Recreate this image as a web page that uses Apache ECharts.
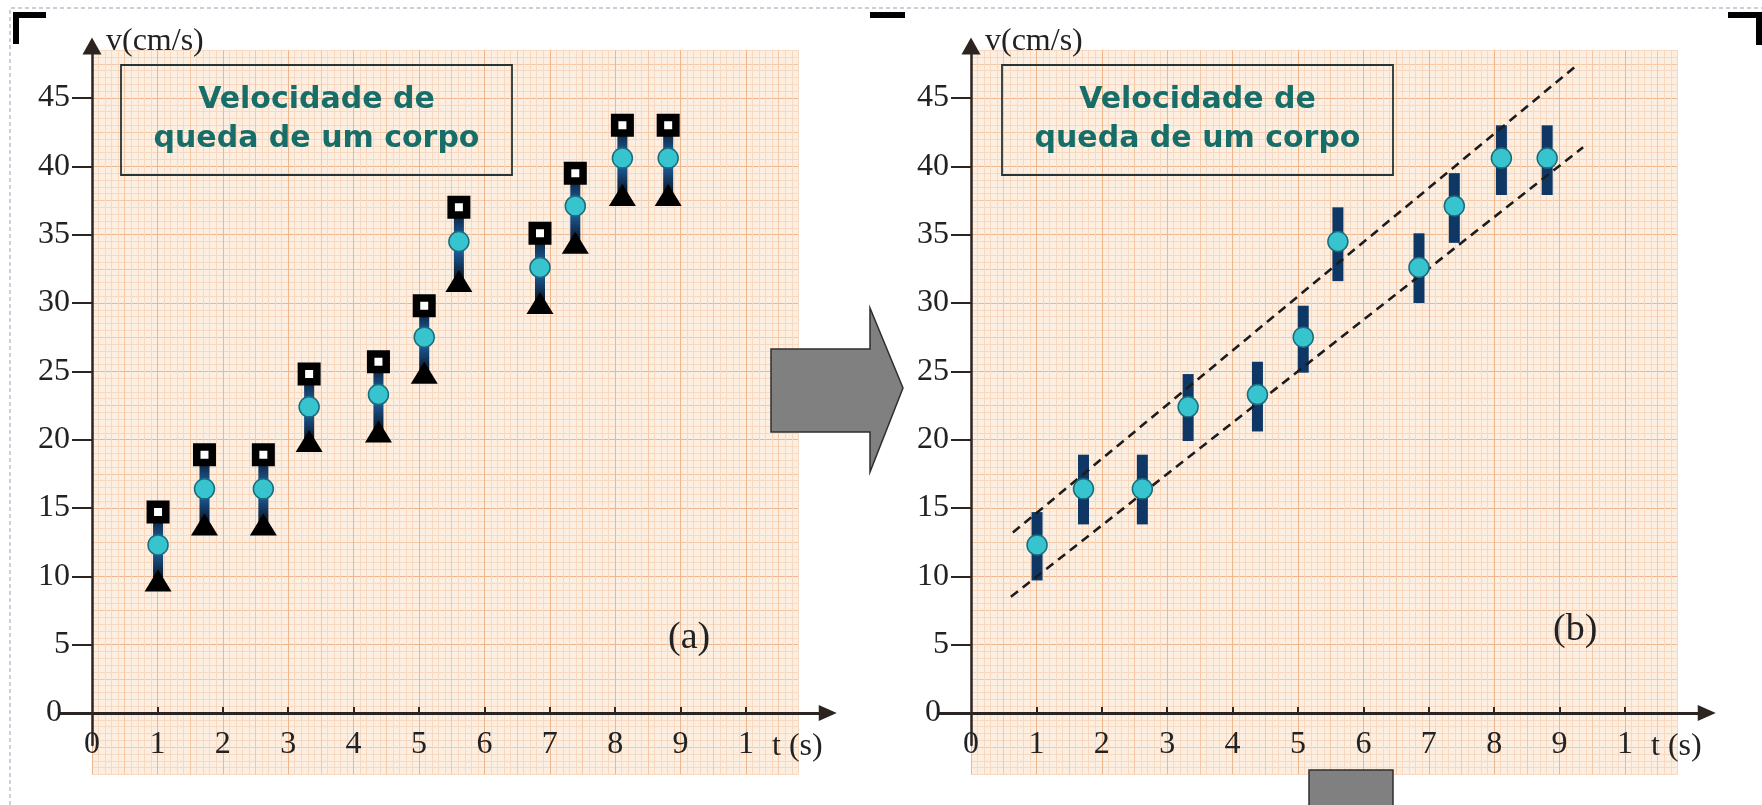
<!DOCTYPE html>
<html>
<head>
<meta charset="utf-8">
<title>Velocidade de queda de um corpo</title>
<script src="https://cdn.jsdelivr.net/npm/echarts@6.0.0/dist/echarts.min.js"></script>
<style>
    html, body { margin: 0; padding: 0; background: #ffffff; }
    #chart { width: 1762px; height: 805px; }
</style>
</head>
<body>
<div id="chart"></div>
<script>
    // medições: tempo (s), velocidade média e limites da barra de erro (cm/s)
    var tempos = [1.01, 1.72, 2.62, 3.32, 4.38, 5.08, 5.61, 6.85, 7.39, 8.11, 8.81];
    var velocidades = [12.3, 16.4, 16.4, 22.4, 23.3, 27.5, 34.5, 32.6, 37.1, 40.6, 40.6];
    var limiteSup = [14.7, 18.9, 18.9, 24.8, 25.7, 29.8, 37.0, 35.1, 39.5, 43.0, 43.0];
    var limiteInf = [9.7, 13.8, 13.8, 19.9, 20.6, 24.9, 31.6, 30.0, 34.4, 37.9, 37.9];

    // retas tracejadas do gráfico (b), [t, v]
    var retaSup = [[0.64, 13.2], [9.24, 47.3]];
    var retaInf = [[0.61, 8.5], [9.36, 41.4]];

    // eixos
    var ticksT = [1, 2, 3, 4, 5, 6, 7, 8, 9, 10];
    var valoresT = [0, 1, 2, 3, 4, 5, 6, 7, 8, 9, 10];
    var rotulosT = ['0', '1', '2', '3', '4', '5', '6', '7', '8', '9', '1'];
    var ticksV = [5, 10, 15, 20, 25, 30, 35, 40, 45];
    var rotulosV = [0, 5, 10, 15, 20, 25, 30, 35, 40, 45];

    // escala em pixels e origem de cada painel
    var SX = 65.4, SY = 13.667;
    var origens = [[92, 713], [971, 713]];
    var PAPEL = {t: [0, 10.8], v: [-4.5, 48.5]};
    var EIXO = {t: [-0.49, 11.25], v: [-2.35, 48.8]};
    var ROTULO = {t: [0, 11.25], v: [0, 48.8]};

    var SERIF = '"Liberation Serif", "Times New Roman", serif';
    var COR_FUNDO = '#fdeee2', COR_MENOR = '#f8d9c0', COR_MEDIA = '#f4c8a4', COR_MAIOR = '#eeb68c';
    var COR_EIXO = '#2b2420';
    var COR_TEXTO = '#222222';

    function retangulo(o, tr, vr) {
        return {
            left: o[0] + tr[0] * SX,
            top: o[1] - vr[1] * SY,
            width: (tr[1] - tr[0]) * SX,
            height: (vr[1] - vr[0]) * SY,
            containLabel: false,
            outerBoundsMode: 'none'
        };
    }

    function ciclo(iMaior, iMedio) {
        var c = [];
        for (var i = 0; i < 10; i++) {
            c.push(i === iMaior ? COR_MAIOR : (i === iMedio ? COR_MEDIA : COR_MENOR));
        }
        return c;
    }

    function semNada(gi, faixa, extra) {
        var eixo = {
            gridIndex: gi, type: 'value', min: faixa[0], max: faixa[1],
            axisLine: {show: false}, axisTick: {show: false}, axisLabel: {show: false}, splitLine: {show: false}
        };
        for (var k in extra) eixo[k] = extra[k];
        return eixo;
    }

    var grids = [], xAxes = [], yAxes = [], series = [];

    origens.forEach(function (o) {
        var g = grids.length;
        var papel = retangulo(o, PAPEL.t, PAPEL.v);
        papel.show = true;
        papel.backgroundColor = COR_FUNDO;
        papel.borderWidth = 0;
        grids.push(papel);
        grids.push(retangulo(o, EIXO.t, EIXO.v));
        grids.push(retangulo(o, ROTULO.t, ROTULO.v));

        // papel milimetrado
        xAxes.push(semNada(g, PAPEL.t, {
            interval: 0.1, splitLine: {show: true, lineStyle: {color: ciclo(0, 5), width: 1}}
        }));
        yAxes.push(semNada(g, PAPEL.v, {
            interval: 0.5, splitLine: {show: true, lineStyle: {color: ciclo(9, 4), width: 1}}
        }));

        // linhas dos eixos com setas, passando pelo zero
        xAxes.push(semNada(g + 1, EIXO.t, {
            axisLine: {
                show: true, onZero: true, symbol: ['none', 'triangle'], symbolSize: [16, 18],
                lineStyle: {color: COR_EIXO, width: 3}
            }
        }));
        yAxes.push(semNada(g + 1, EIXO.v, {
            axisLine: {
                show: true, onZero: true, symbol: ['none', 'triangle'], symbolSize: [19, 17],
                lineStyle: {color: COR_EIXO, width: 2.5}
            }
        }));

        // marcas e números
        xAxes.push(semNada(g + 2, ROTULO.t, {
            axisLine: {show: false, onZero: false},
            axisTick: {show: true, inside: true, length: 6, customValues: ticksT, lineStyle: {color: COR_EIXO, width: 2}},
            axisLabel: {
                show: true, customValues: valoresT, margin: 16, fontFamily: SERIF, fontSize: 32, color: COR_TEXTO,
                formatter: function (v) { return rotulosT[Math.round(v)]; }
            }
        }));
        yAxes.push(semNada(g + 2, ROTULO.v, {
            name: 'v(cm/s)', nameLocation: 'end', nameGap: 4, nameMoveOverlap: false,
            nameTextStyle: {
                fontFamily: SERIF, fontSize: 32, color: COR_TEXTO, align: 'left',
                verticalAlign: 'middle', padding: [0, 0, 0, 14]
            },
            axisLine: {show: false, onZero: false},
            axisTick: {show: true, inside: false, length: 20, customValues: ticksV, lineStyle: {color: COR_EIXO, width: 2}},
            axisLabel: {
                show: true, customValues: rotulosV, margin: 22, fontFamily: SERIF, fontSize: 32, color: COR_TEXTO,
                formatter: function (v) { return v === 0 ? '{z|0}' : String(v); },
                rich: {z: {fontFamily: SERIF, fontSize: 32, color: COR_TEXTO, padding: [0, 8, 0, 0]}}
            }
        }));
    });

    var barras = tempos.map(function (t, i) { return [t, limiteInf[i], limiteSup[i]]; });
    var medias = tempos.map(function (t, i) { return [t, velocidades[i]]; });
    var sup = tempos.map(function (t, i) { return [t, limiteSup[i]]; });
    var inf = tempos.map(function (t, i) { return [t, limiteInf[i]]; });

    function barraErro(largura, preenchimento) {
        return function (params, api) {
            var topo = api.coord([api.value(0), api.value(2)]);
            var base = api.coord([api.value(0), api.value(1)]);
            return {
                type: 'rect',
                shape: {x: topo[0] - largura / 2, y: topo[1], width: largura, height: base[1] - topo[1]},
                style: {fill: preenchimento}
            };
        };
    }

    var gradienteA = new echarts.graphic.LinearGradient(0, 0, 0, 1, [
        {offset: 0, color: '#06101e'},
        {offset: 0.45, color: '#1f63a6'},
        {offset: 0.55, color: '#1f63a6'},
        {offset: 1, color: '#06101e'}
    ]);

    var circulo = {color: '#38c4cf', borderColor: '#1b6d7e', borderWidth: 1.5, opacity: 1};

    // gráfico (a): eixos do grid 1
    series.push(
        {type: 'custom', xAxisIndex: 1, yAxisIndex: 1, data: barras, renderItem: barraErro(10, gradienteA), z: 2},
        {type: 'scatter', xAxisIndex: 1, yAxisIndex: 1, data: inf, symbol: 'triangle', symbolSize: [27, 22],
            itemStyle: {color: '#000000', opacity: 1}, z: 3},
        {type: 'scatter', xAxisIndex: 1, yAxisIndex: 1, data: sup, symbol: 'rect', symbolSize: 15.5,
            itemStyle: {color: '#ffffff', borderColor: '#000000', borderWidth: 7.5, opacity: 1}, z: 3},
        {type: 'scatter', xAxisIndex: 1, yAxisIndex: 1, data: medias, symbol: 'circle', symbolSize: 20,
            itemStyle: circulo, z: 4}
    );

    // gráfico (b): eixos do grid 4
    var tracejado = {type: [9, 6], width: 2.6, color: '#1c1c1c'};
    series.push(
        {type: 'custom', xAxisIndex: 4, yAxisIndex: 4, data: barras, renderItem: barraErro(11, '#0e3766'), z: 2},
        {type: 'line', xAxisIndex: 4, yAxisIndex: 4, data: retaSup, symbol: 'none', lineStyle: tracejado, z: 3},
        {type: 'line', xAxisIndex: 4, yAxisIndex: 4, data: retaInf, symbol: 'none', lineStyle: tracejado, z: 3},
        {type: 'scatter', xAxisIndex: 4, yAxisIndex: 4, data: medias, symbol: 'circle', symbolSize: 20,
            itemStyle: circulo, z: 4}
    );

    function texto(x, y, conteudo, tamanho) {
        return {type: 'text', z: 50, x: x, y: y, style: {
            text: conteudo, align: 'left', verticalAlign: 'middle',
            fontFamily: SERIF, fontSize: tamanho, fill: COR_TEXTO
        }};
    }

    function caixaTitulo(x) {
        return [
            {type: 'rect', z: 50, shape: {x: x, y: 65, width: 391, height: 110},
                style: {fill: 'none', stroke: '#263535', lineWidth: 1.8}},
            {type: 'text', z: 51, x: x + 195.5, y: 120, style: {
                text: 'Velocidade de\nqueda de um corpo', align: 'center', verticalAlign: 'middle',
                fontFamily: '"DejaVu Sans", sans-serif', fontWeight: 'bold', fontSize: 30,
                lineHeight: 39, fill: '#176e69'
            }}
        ];
    }

    var preto = {fill: 'none', stroke: '#000', lineWidth: 6};
    var graficos = [
        // moldura tracejada e cantoneiras
        {type: 'polyline', z: 60, shape: {points: [[10, 805], [10, 8], [1762, 8]]},
            style: {fill: 'none', stroke: '#8fa3b8', lineWidth: 1, lineDash: [4, 3]}},
        {type: 'polyline', z: 61, shape: {points: [[16, 44], [16, 15], [46, 15]]}, style: preto},
        {type: 'polyline', z: 61, shape: {points: [[870, 15], [905, 15]]}, style: preto},
        {type: 'polyline', z: 61, shape: {points: [[1728, 15], [1759, 15], [1759, 45]]}, style: preto},
        // seta cinza entre os painéis
        {type: 'polygon', z: 60, shape: {points: [[771, 349], [870, 349], [870, 308], [903, 388], [870, 472], [870, 432], [771, 432]]},
            style: {fill: '#808080', stroke: '#2e2e2e', lineWidth: 1.5}},
        {type: 'rect', z: 60, shape: {x: 1309, y: 770, width: 84, height: 40},
            style: {fill: '#808080', stroke: '#2e2e2e', lineWidth: 1.5}},
        texto(668, 638, '(a)', 38),
        texto(1553, 630, '(b)', 38),
        texto(772, 747, 't (s)', 32),
        texto(1651, 747, 't (s)', 32)
    ].concat(caixaTitulo(121), caixaTitulo(1002));

    var myChart = echarts.init(document.getElementById('chart'), null, {renderer: 'canvas'});
    myChart.setOption({
        animation: false,
        backgroundColor: '#ffffff',
        grid: grids,
        xAxis: xAxes,
        yAxis: yAxes,
        series: series,
        graphic: graficos
    });
</script>
</body>
</html>
